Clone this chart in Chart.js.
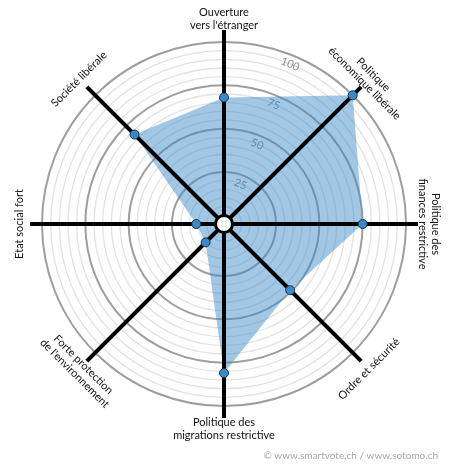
<!DOCTYPE html>
<html><head><meta charset="utf-8">
<script src="https://cdn.jsdelivr.net/npm/chart.js@4.4.1/dist/chart.umd.min.js"></script>
<style>html,body{margin:0;padding:0;background:#fff;}</style>
</head><body>
<canvas id="c" width="450" height="470"></canvas>
<script>
const categories = [
  ["Ouverture", "vers l'étranger"],
  ["Politique", "économique libérale"],
  ["Politique des", "finances restrictive"],
  ["Ordre et sécurité"],
  ["Politique des", "migrations restrictive"],
  ["Forte protection", "de l'environnement"],
  ["Etat social fort"],
  ["Société libérale"]
];
const values = [68, 100, 75, 49, 81, 10, 11, 68];
const tickLabels = [25, 50, 75, 100];
const credit = "© www.smartvote.ch / www.sotomo.ch";

const FONT = "Lato, 'Noto Sans', sans-serif";

const decor = {
  id: 'decor',
  beforeDatasetsDraw(chart) {
    const s = chart.scales.r, ctx = chart.ctx;
    const a = 22.5 * Math.PI / 180;
    ctx.save();
    ctx.font = "11px " + FONT;
    ctx.fillStyle = '#8c8c8c';
    ctx.textAlign = 'center';
    ctx.textBaseline = 'middle';
    tickLabels.forEach(v => {
      const d = s.getDistanceFromCenterForValue(v) - 9;
      ctx.save();
      ctx.translate(s.xCenter + Math.sin(a) * d, s.yCenter - Math.cos(a) * d);
      ctx.rotate(a);
      ctx.fillText(String(v), 0, 0);
      ctx.restore();
    });
    ctx.restore();
  },
  afterDatasetDraw(chart, args) {
    if (args.index !== 0) return;
    const s = chart.scales.r, ctx = chart.ctx;
    ctx.save();
    ctx.strokeStyle = '#000';
    ctx.lineWidth = 4;
    ctx.lineCap = 'butt';
    for (let i = 0; i < categories.length; i++) {
      const p = s.getPointPosition(i, s.drawingArea + 12);
      ctx.beginPath();
      ctx.moveTo(s.xCenter, s.yCenter);
      ctx.lineTo(p.x, p.y);
      ctx.stroke();
    }
    ctx.beginPath();
    ctx.arc(s.xCenter, s.yCenter, 8.5, 0, Math.PI * 2);
    ctx.fillStyle = '#fff';
    ctx.fill();
    ctx.lineWidth = 3;
    ctx.stroke();
    ctx.restore();
  },
  afterDraw(chart) {
    const s = chart.scales.r, ctx = chart.ctx;
    ctx.save();
    ctx.font = "11px " + FONT;
    ctx.fillStyle = '#111';
    ctx.textAlign = 'center';
    ctx.textBaseline = 'middle';
    const lh = 12.5;
    categories.forEach((lines, i) => {
      let deg = i * 360 / categories.length;
      let rot = deg;
      if (deg > 90 && deg < 270) rot = deg - 180;
      else if (deg >= 270) rot = deg - 360;
      const p = s.getPointPosition(i, s.drawingArea + 23);
      ctx.save();
      ctx.translate(p.x, p.y);
      ctx.rotate(rot * Math.PI / 180);
      const n = lines.length;
      lines.forEach((t, k) => {
        ctx.fillText(t, 0, (k - (n - 1) / 2) * lh);
      });
      ctx.restore();
    });
    ctx.font = "10px " + FONT;
    ctx.fillStyle = '#a8a8a8';
    ctx.textAlign = 'right';
    ctx.fillText(credit, 438, 456);
    ctx.restore();
  }
};

new Chart(document.getElementById('c'), {
  type: 'radar',
  data: {
    labels: categories,
    datasets: [
      {
        data: values,
        backgroundColor: 'rgba(55,135,200,0.47)',
        borderWidth: 0,
        pointRadius: 0,
        pointHoverRadius: 0,
        fill: true,
        order: 2
      },
      {
        data: values,
        backgroundColor: 'rgba(0,0,0,0)',
        borderWidth: 0,
        showLine: false,
        fill: false,
        pointRadius: 4.5,
        pointBackgroundColor: '#3a8ac8',
        pointBorderColor: '#17324d',
        pointBorderWidth: 1,
        order: 1
      }
    ]
  },
  options: {
    responsive: false,
    animation: false,
    devicePixelRatio: 1,
    layout: { padding: { left: 42, top: 42, right: 44, bottom: 64 } },
    plugins: { legend: { display: false }, tooltip: { enabled: false } },
    scales: {
      r: {
        min: -5,
        max: 100,
        startAngle: 0,
        ticks: { display: false, stepSize: 5 },
        pointLabels: { display: false },
        angleLines: { display: false },
        grid: {
          circular: true,
          color: ctx => (ctx.tick && ctx.tick.value > 0 && ctx.tick.value % 25 === 0) ? '#9d9d9d' : '#e2e2e2',
          lineWidth: ctx => (ctx.tick && ctx.tick.value > 0 && ctx.tick.value % 25 === 0) ? 2 : 1.3
        }
      }
    }
  },
  plugins: [decor]
});
</script>
</body></html>
